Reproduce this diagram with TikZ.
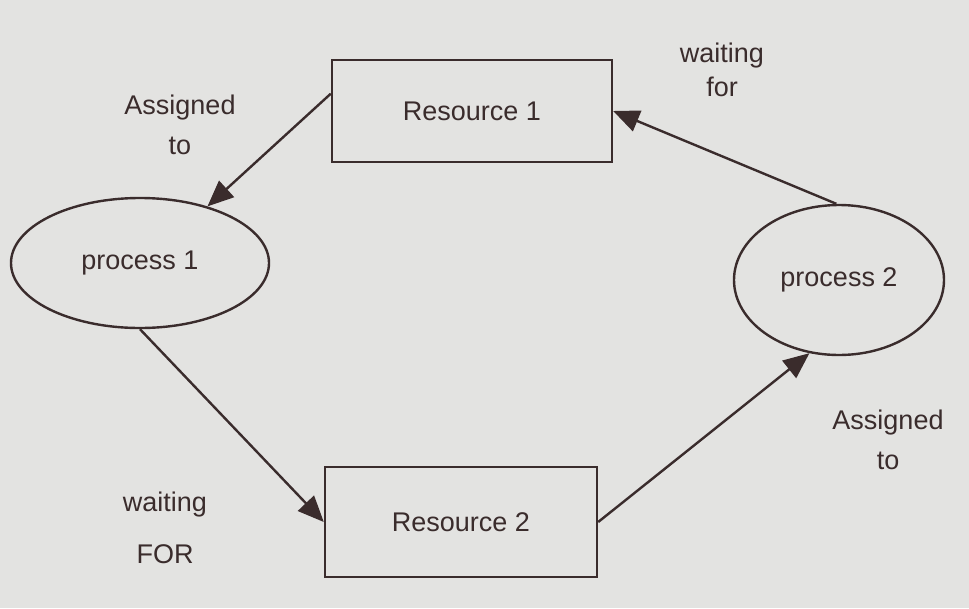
\documentclass[tikz,border=0pt]{standalone}
\usepackage{fontspec}
\setmainfont{Liberation Sans}
\usetikzlibrary{arrows.meta,shapes.geometric}
\definecolor{paper}{HTML}{E3E3E1}
\definecolor{ink}{HTML}{3A2C2C}
\tikzset{
  ink line/.style={draw=ink, line width=2.4pt},
  resbox/.style={ink line, rectangle, font=\fontsize{27}{30}\selectfont, text=ink},
  procshape/.style={ink line, ellipse, font=\fontsize{27}{30}\selectfont, text=ink},
  edge/.style={ink line, -{Triangle[length=26pt,width=22pt]}},
  lbl/.style={font=\fontsize{27}{34}\selectfont, text=ink, align=center}
}
\begin{document}
\begin{tikzpicture}[x=1pt,y=-1pt]
  % canvas
  \fill[paper] (0,0) rectangle (969,608);
  \useasboundingbox (0,0) rectangle (969,608);

  % resources and processes
  \node[resbox, minimum width=280pt, minimum height=102pt] (r1) at (472,111) {Resource 1};
  \node[resbox, minimum width=272pt, minimum height=110pt] (r2) at (461,522) {Resource 2};
  \node[procshape, minimum width=258pt, minimum height=130pt] (p1) at (140,263) {process 1};
  \node[procshape, minimum width=210pt, minimum height=150pt] (p2) at (839,280) {process 2};

  % request / assignment edges
  \draw[edge] (r1.173) -- (p1.40);
  \draw[edge] (p2.92) -- (r1.east);
  \draw[edge] (p1.-90) -- (r2.west);
  \draw[edge] (r2.east) -- (p2.-112);

  % edge labels
  \node[lbl] (a1) at (180,125) {Assigned\\[6pt]to};
  \node[lbl] (w1) at (722,70) {waiting\\for};
  \node[lbl] (w2) at (165,528) {waiting\\[18pt]FOR};
  \node[lbl] (a2) at (888,440) {Assigned\\[6pt]to};
\end{tikzpicture}
\end{document}
